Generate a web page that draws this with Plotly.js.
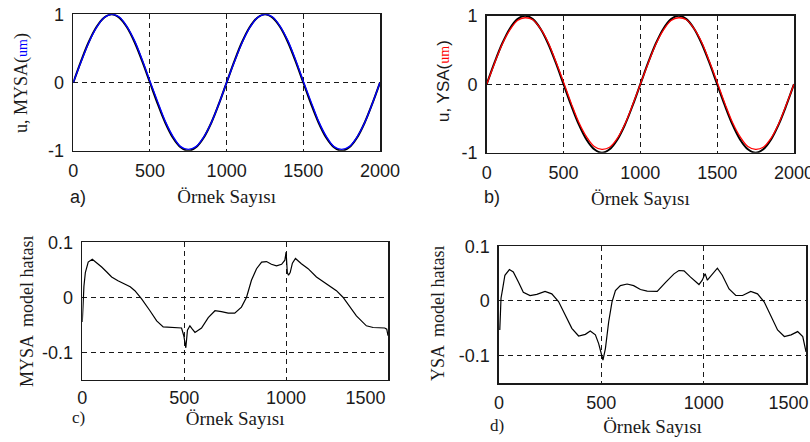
<!DOCTYPE html>
<html><head><meta charset="utf-8">
<script src="https://cdn.plot.ly/plotly-3.0.1.min.js"></script>
<style>html,body{margin:0;padding:0;background:#fff}</style>
</head><body><div id="chart" style="width:810px;height:442px"></div>
<script>
// ---- data ----
const nAB = [0,50,100,150,200,250,300,350,400,450,500,550,600,650,700,750,800,850,900,950,1000,
             1050,1100,1150,1200,1250,1300,1350,1400,1450,1500,1550,1600,1650,1700,1750,1800,1850,1900,1950,2000];
const uRef = [0,0.31,0.59,0.81,0.95,1.00,0.95,0.81,0.59,0.31,0,-0.31,-0.59,-0.81,-0.95,-1.00,-0.95,-0.81,-0.59,-0.31,0,
              0.31,0.59,0.81,0.95,1.00,0.95,0.81,0.59,0.31,0,-0.31,-0.59,-0.81,-0.95,-1.00,-0.95,-0.81,-0.59,-0.31,0];
const mysaOut = [0,0.30,0.58,0.80,0.95,1.00,0.96,0.82,0.61,0.33,0.02,-0.28,-0.57,-0.79,-0.94,-0.98,-0.94,-0.80,-0.59,-0.31,0.00,
                 0.30,0.58,0.80,0.95,1.00,0.96,0.82,0.61,0.33,0.02,-0.28,-0.57,-0.79,-0.94,-0.98,-0.94,-0.80,-0.59,-0.31,0.00];
const ysaOut = [0,0.30,0.58,0.79,0.93,0.97,0.94,0.81,0.61,0.33,0.03,-0.28,-0.56,-0.77,-0.91,-0.95,-0.92,-0.79,-0.58,-0.30,0.00,
                0.30,0.58,0.79,0.93,0.97,0.94,0.81,0.61,0.33,0.03,-0.28,-0.56,-0.77,-0.91,-0.95,-0.92,-0.79,-0.58,-0.30,0.00];

const nC = [0,3,8,15,29,49,70,95,120,144,175,209,235,258,291,332,365,397,454,487,498,508,516,528,540,
            553,585,618,651,683,716,748,781,806,830,855,880,904,928,953,978,994,1000,1006,1012,
            1020,1031,1046,1075,1108,1149,1198,1247,1279,1312,1345,1394,1427,1484,1494,1500];
const mysaErr = [-0.045,0.0,0.02,0.045,0.064,0.069,0.063,0.055,0.046,0.037,0.030,0.0245,0.019,0.012,-0.003,
                 -0.0245,-0.043,-0.054,-0.055,-0.056,-0.07,-0.092,-0.06,-0.052,-0.058,-0.064,-0.056,-0.037,-0.0245,-0.026,
                 -0.029,-0.029,-0.018,0.0,0.031,0.052,0.064,0.065,0.060,0.057,0.060,0.0675,0.082,0.045,0.040,
                 0.045,0.062,0.0706,0.061,0.052,0.037,0.0245,0.012,0.0,-0.018,-0.034,-0.052,-0.055,-0.056,-0.058,-0.07];

const nD = [4,6,10,18,29,51,70,95,119,152,185,225,258,291,324,356,389,422,446,471,487,500,508,520,536,
            552,569,593,626,658,691,724,773,814,855,879,904,936,977,993,1007,1018,1042,1067,1091,
            1124,1157,1190,1230,1263,1296,1329,1361,1394,1427,1459,1484,1500];
const ysaErr = [-0.053,-0.01,0.005,0.022,0.047,0.0575,0.053,0.0345,0.016,0.010,0.012,0.0175,0.013,-0.001,-0.026,
                -0.050,-0.064,-0.061,-0.055,-0.062,-0.078,-0.096,-0.108,-0.087,-0.038,-0.002,0.019,0.028,0.031,0.028,
                0.021,0.018,0.0175,0.034,0.0496,0.0557,0.055,0.0436,0.030,0.038,0.05,0.038,0.0497,0.060,0.047,
                0.022,0.010,0.010,0.0175,0.013,-0.002,-0.029,-0.053,-0.065,-0.062,-0.056,-0.065,-0.093];

const ticksAB = [0,500,1000,1500,2000];
const ticksCD = [0,500,1000,1500];
const tickTextC = ['0','500','1000','1500\u00a0\u00a0\u00a0\u00a0\u00a0\u00a0\u00a0\u00a0\u00a0'];
const tickTextD = ['0','500','1000','1500\u00a0\u00a0\u00a0\u00a0\u00a0\u00a0\u00a0'];
const yTicksAB = [-1,0,1];
const yTickTextAB = ['-1','0','1'];
const yTicksCD = [-0.1,0,0.1];
const yTickTextCD = ['-0.1','0','0.1'];
const xTitle = 'Örnek Sayısı';
const yTitleA = 'u, MYSA(<span style="color:#0000ff;font-size:14px">um</span>)';
const yTitleB = 'u, YSA(<span style="color:#ff0000;font-size:14px;font-family:Liberation Serif">um</span>)';
const yTitleC = 'MYSA  model hatası';
const yTitleD = 'YSA  model hatası';

// ---- styling ----
const ink = '#1a1a1a';
const tickFont = {family:'Liberation Sans, Arial, sans-serif', size:18, color:ink};
const serif = 'Liberation Serif, Times New Roman, serif';
function ax(extra){
  return Object.assign({showline:true, mirror:true, linecolor:ink, linewidth:1.6,
    showgrid:true, gridcolor:ink, gridwidth:1, griddash:'5px,4px', zeroline:false,
    ticks:'', tickfont:tickFont, automargin:false, fixedrange:true, ticklabeloverflow:'allow'}, extra);
}
const xt = (s) => ({text:xTitle, font:{family:serif, size:19, color:ink}, standoff:s});

const traces = [
  {x:nAB, y:uRef, xaxis:'x', yaxis:'y', mode:'lines', line:{color:'#000', width:2, shape:'spline'}},
  {x:nAB, y:mysaOut, xaxis:'x', yaxis:'y', mode:'lines', line:{color:'#0000ff', width:1.4, shape:'spline'}},
  {x:nAB, y:uRef, xaxis:'x2', yaxis:'y2', mode:'lines', line:{color:'#000', width:2, shape:'spline'}},
  {x:nAB, y:ysaOut, xaxis:'x2', yaxis:'y2', mode:'lines', line:{color:'#ff0000', width:1.3, shape:'spline'}},
  {x:nC, y:mysaErr, xaxis:'x3', yaxis:'y3', mode:'lines', line:{color:'#000', width:1.2}},
  {x:nD, y:ysaErr, xaxis:'x4', yaxis:'y4', mode:'lines', line:{color:'#000', width:1.2}}
];

function ann(text, px, py, font, angle){
  return {text:text, xref:'paper', yref:'paper', x:px/810, y:1-py/442, xanchor:'center', yanchor:'middle',
          showarrow:false, font:font, textangle:angle||0};
}

const layout = {
  width:810, height:442, margin:{l:0,r:0,t:0,b:0}, showlegend:false,
  paper_bgcolor:'#fff', plot_bgcolor:'#fff',
  xaxis: ax({domain:[0.0905,0.4691], range:[0,2000], tickvals:ticksAB, anchor:'y', ticklabelstandoff:3, title:xt(10)}),
  yaxis: ax({domain:[0.6590,0.9676], range:[-1,1], tickvals:yTicksAB, ticktext:yTickTextAB, anchor:'x', ticklabelstandoff:4}),
  xaxis2: ax({domain:[0.6009,0.9802], range:[0,2000], tickvals:ticksAB, anchor:'y2', ticklabelstandoff:3, title:xt(10)}),
  yaxis2: ax({domain:[0.6545,0.9645], range:[-1,1], tickvals:yTicksAB, ticktext:yTickTextAB, anchor:'x2', ticklabelstandoff:4}),
  xaxis3: ax({domain:[0.1016,0.4790], range:[0,1500], tickvals:ticksCD, ticktext:tickTextC, anchor:'y3', ticklabelstandoff:1, title:xt(4)}),
  yaxis3: ax({domain:[0.1410,0.4518], range:[-0.15,0.1], tickvals:yTicksCD, ticktext:yTickTextCD, anchor:'x3', ticklabelstandoff:4}),
  xaxis4: ax({domain:[0.6160,0.9951], range:[0,1500], tickvals:ticksCD, ticktext:tickTextD, anchor:'y4', ticklabelstandoff:3, title:xt(7)}),
  yaxis4: ax({domain:[0.1335,0.4428], range:[-0.15,0.1], tickvals:yTicksCD, ticktext:yTickTextCD, anchor:'x4', ticklabelstandoff:4}),
  annotations: [
    ann(yTitleA, 21, 83, {family:serif, size:18, color:ink}, -90),
    ann(yTitleB, 443, 81, {family:'Liberation Sans, Arial, sans-serif', size:17, color:ink}, -90),
    ann(yTitleC, 27, 311, {family:serif, size:18, color:ink}, -90),
    ann(yTitleD, 438, 313, {family:serif, size:18, color:ink}, -90),
    ann('a)', 78, 197, {family:'Liberation Sans, Arial', size:18, color:ink}),
    ann('b)', 492, 197, {family:'Liberation Sans, Arial', size:18, color:ink}),
    ann('c)', 78, 417, {family:serif, size:17, color:ink}),
    ann('d)', 497, 425, {family:serif, size:17, color:ink})
  ]
};

Plotly.newPlot('chart', traces, layout, {staticPlot:true, displayModeBar:false});
</script>
</body></html>
